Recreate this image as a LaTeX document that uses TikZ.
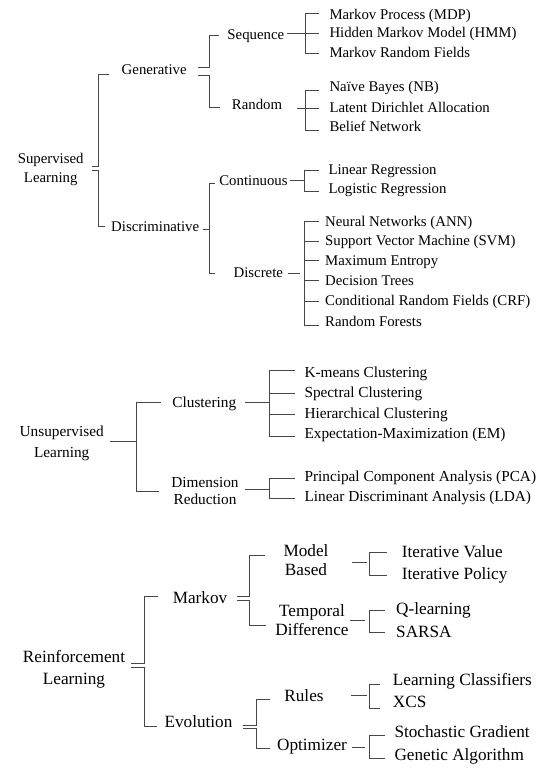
\documentclass[tikz,border=0pt]{standalone}
\usepackage{fontspec}
\setmainfont{Liberation Serif}

\begin{document}
\begin{tikzpicture}[x=1pt,y=-1pt,
    cat/.style={align=center,inner sep=0pt,text=black},
    mid/.style={inner sep=0pt,text height=0.9em,text depth=0em,text=black},
    leaf/.style={anchor=west,inner sep=0pt,text height=0.9em,text depth=0em,text=black},
    br/.style={draw=black!72,line width=0.9pt}]
  \useasboundingbox (0,0) rectangle (557,781);

  % supervised
  \begin{scope}[font=\fontsize{14.8}{18.5}\selectfont]
    \node (sup) [cat] at (50.7,169.5) {Supervised\\Learning};
    \node (gen) [mid] at (154.2,70) {Generative};
    \node (dis) [mid] at (155.2,226.7) {Discriminative};
    \node (seq) [mid] at (255.8,35) {Sequence};
    \node (rnd) [mid] at (257,105) {Random};
    \node (con) [mid] at (253.5,180.7) {Continuous};
    \node (dsc) [mid] at (258.3,273.3) {Discrete};
    \node (mdp) [leaf] at (329.3,15) {Markov Process (MDP)};
    \node (hmm) [leaf] at (329.3,33.3) {Hidden Markov Model (HMM)};
    \node (mrf) [leaf] at (329.3,53.3) {Markov Random Fields};
    \node (nb) [leaf] at (329.3,87.3) {Naïve Bayes (NB)};
    \node (lda) [leaf] at (329.3,108.3) {Latent Dirichlet Allocation};
    \node (bn) [leaf] at (329.3,126.7) {Belief Network};
    \node (linr) [leaf] at (328.3,170) {Linear Regression};
    \node (logr) [leaf] at (328.3,189.3) {Logistic Regression};
    \node (ann) [leaf] at (325,221.7) {Neural Networks (ANN)};
    \node (svm) [leaf] at (325,241) {Support Vector Machine (SVM)};
    \node (ment) [leaf] at (325,260.7) {Maximum Entropy};
    \node (dt) [leaf] at (325,280.7) {Decision Trees};
    \node (crf) [leaf] at (325,301.2) {Conditional Random Fields (CRF)};
    \node (rf) [leaf] at (325,321.7) {Random Forests};
  \end{scope}
  \coordinate (supB) at (98.3,0);
  \coordinate (genB) at (209,0);
  \coordinate (disB) at (209.3,0);
  \coordinate (seqB) at (305,0);
  \coordinate (rndB) at (305,0);
  \coordinate (conB) at (304,0);
  \coordinate (dscB) at (304,0);
  \draw[br] ([xshift=8,yshift=3]sup.east) -| ([yshift=-4]gen.west -| supB) -- ([xshift=-13,yshift=-4]gen.west);
  \draw[br] ([xshift=8,yshift=-0.5]sup.east) -| (dis.west -| supB) -- ([xshift=-6]dis.west);
  \draw[br] ([xshift=11,yshift=2.3]gen.east) -| (seq.west -| genB) -- ([xshift=-8]seq.west);
  \draw[br] ([xshift=11,yshift=-5]gen.east) -| ([yshift=-2]rnd.west -| genB) -- ([xshift=-12,yshift=-2]rnd.west);
  \draw[br] ([xshift=4,yshift=-2.3]dis.east) -- ([yshift=-2.3]dis.east -| disB);
  \draw[br] ([xshift=-4,yshift=-2.6]con.west) -| (dsc.west -| disB) -- ([xshift=-18]dsc.west);
  \draw[br] ([xshift=3,yshift=1.7]seq.east) -- ([xshift=-10]hmm.west);
  \draw[br] ([xshift=-10,yshift=2]mdp.west) -| (mrf.west -| seqB) -- ([xshift=-10]mrf.west);
  \draw[br] ([xshift=-32.6]lda.west) -- ([xshift=-10]lda.west);
  \draw[br] ([xshift=-10,yshift=-3]nb.west) -| ([yshift=-4]bn.west -| rndB) -- ([xshift=-10,yshift=-4]bn.west);
  \draw[br] ([xshift=2]con.east) -- (con.east -| conB);
  \draw[br] ([xshift=-9]linr.west) -| ([yshift=-1.7]logr.west -| conB) -- ([xshift=-9,yshift=-1.7]logr.west);
  \draw[br] ([xshift=5]dsc.east) -- ([xshift=17]dsc.east);
  \draw[br] ([xshift=-6]ann.west) -| ([yshift=-4]rf.west -| dscB) -- ([xshift=-6,yshift=-4]rf.west);
  \foreach \n in {svm,ment,dt,crf}
    \draw[br] ([xshift=-6]\n.west) -- (\n.west -| dscB);

  % unsupervised
  \begin{scope}[font=\fontsize{15.3}{19}\selectfont]
    \node (uns) [cat,font=\fontsize{15.3}{21}\selectfont] at (61.7,443.5) {Unsupervised\\Learning};
    \node (clu) [mid] at (204.3,403.3) {Clustering};
    \node (dim) [cat,font=\fontsize{15.3}{17.3}\selectfont] at (205,490.7) {Dimension\\Reduction};
    \node (km) [leaf] at (304.3,372.7) {K-means Clustering};
    \node (spc) [leaf] at (304.3,393.3) {Spectral Clustering};
    \node (hie) [leaf] at (304.3,414) {Hierarchical Clustering};
    \node (em) [leaf] at (304.3,434) {Expectation-Maximization (EM)};
    \node (pca) [leaf] at (304.3,477.3) {Principal Component Analysis (PCA)};
    \node (ldb) [leaf] at (304.3,496.7) {Linear Discriminant Analysis (LDA)};
  \end{scope}
  \coordinate (unsB) at (136.7,0);
  \coordinate (cluB) at (269.3,0);
  \coordinate (dimB) at (269.3,0);
  \draw[br] ([xshift=6,yshift=2.5]uns.east) -- ([yshift=2.5]uns.east -| unsB);
  \draw[br] ([xshift=-11,yshift=1]clu.west) -| ([yshift=-0.3]dim.west -| unsB) -- ([xshift=-12,yshift=-0.3]dim.west);
  \draw[br] ([xshift=9,yshift=1]clu.east) -- ([yshift=1]clu.east -| cluB);
  \draw[br] ([xshift=-9,yshift=2.5]km.west) -| ([yshift=-2]em.west -| cluB) -- ([xshift=-9,yshift=-2]em.west);
  \foreach \n in {spc,hie}
    \draw[br] ([xshift=-9]\n.west) -- (\n.west -| cluB);
  \draw[br] ([xshift=6,yshift=1.7]dim.east) -- ([yshift=1.7]dim.east -| dimB);
  \draw[br] ([xshift=-9,yshift=-1]pca.west) -| ([yshift=-2]ldb.west -| dimB) -- ([xshift=-9,yshift=-2]ldb.west);

  % reinforcement
  \begin{scope}[font=\fontsize{17.2}{19.3}\selectfont]
    \node (rl) [cat,font=\fontsize{17.2}{22}\selectfont] at (74,669) {Reinforcement\\Learning};
    \node (mkv) [mid] at (200,599) {Markov};
    \node (evo) [mid] at (198.5,722.7) {Evolution};
    \node (mb) [cat] at (306,560) {Model\\Based};
    \node (td) [cat] at (312,620) {Temporal\\Difference};
    \node (rul) [mid] at (304,697) {Rules};
    \node (opt) [mid] at (312,746) {Optimizer};
    \node (iv) [leaf] at (401.7,552.7) {Iterative Value};
    \node (ip) [leaf] at (401.7,575) {Iterative Policy};
    \node (ql) [leaf] at (396,610) {Q-learning};
    \node (sa) [leaf] at (396,632.7) {SARSA};
    \node (lc) [leaf] at (392.7,680.7) {Learning Classifiers};
    \node (xcs) [leaf] at (392.7,702.7) {XCS};
    \node (sg) [leaf] at (394.3,733.3) {Stochastic Gradient};
    \node (ga) [leaf] at (394.3,756) {Genetic Algorithm};
  \end{scope}
  \coordinate (rlB) at (144,0);
  \coordinate (mkvB) at (249.3,0);
  \coordinate (evoB) at (256,0);
  \coordinate (subB) at (369.3,0);
  \draw[br] ([xshift=6,yshift=6]rl.east) -| ([yshift=2.3]mkv.west -| rlB) -- ([xshift=-14.7,yshift=2.3]mkv.west);
  \draw[br] ([xshift=6,yshift=2]rl.east) -| ([yshift=-3.3]evo.west -| rlB) -- ([xshift=-7,yshift=-3.3]evo.west);
  \draw[br] ([xshift=10,yshift=2.3]mkv.east) -| ([yshift=5]mb.west -| mkvB) -- ([xshift=-18.5,yshift=5]mb.west);
  \draw[br] ([xshift=10,yshift=-1]mkv.east) -| ([yshift=-5]td.west -| mkvB) -- ([xshift=-9,yshift=-5]td.west);
  \draw[br] ([xshift=10,yshift=-2.3]evo.east) -| ([yshift=-2]rul.west -| evoB) -- ([xshift=-14.7,yshift=-2]rul.west);
  \draw[br] ([xshift=10,yshift=-5.3]evo.east) -| ([yshift=-2]opt.west -| evoB) -- ([xshift=-7,yshift=-2]opt.west);
  \draw[br] ([xshift=23,yshift=-2.3]mb.east) -- ([xshift=38,yshift=-2.3]mb.east);
  \draw[br] ([xshift=-15]iv.west) -| (ip.west -| subB) -- ([xshift=-15]ip.west);
  \draw[br] ([xshift=1]td.east) -- ([xshift=16]td.east);
  \draw[br] ([xshift=-11]ql.west) -| (sa.west -| subB) -- ([xshift=-11]sa.west);
  \draw[br] ([xshift=27,yshift=1.3]rul.east) -- ([xshift=43,yshift=1.3]rul.east);
  \draw[br] ([xshift=-12.7,yshift=-3.3]lc.west) -| ([yshift=-5.6]xcs.west -| subB) -- ([xshift=-12.7,yshift=-5.6]xcs.west);
  \draw[br] ([xshift=5,yshift=-1.3]opt.east) -- ([xshift=18,yshift=-1.3]opt.east);
  \draw[br] ([xshift=-9.3,yshift=-1.7]sg.west) -| ([yshift=-2.3]ga.west -| subB) -- ([xshift=-9.3,yshift=-2.3]ga.west);
\end{tikzpicture}
\end{document}
